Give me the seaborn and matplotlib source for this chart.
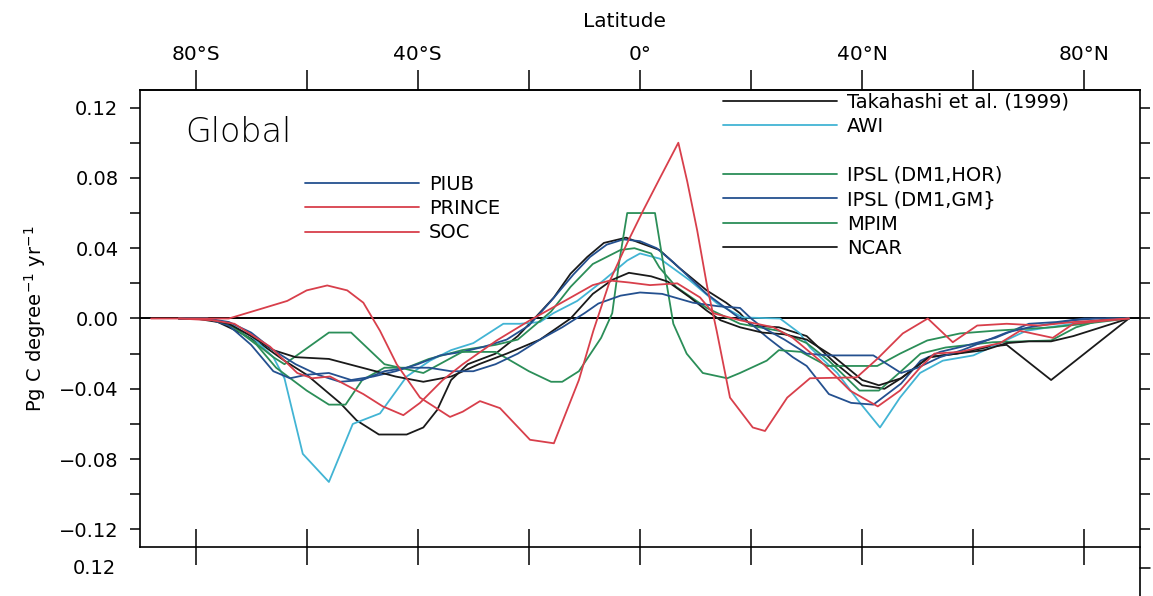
import matplotlib
matplotlib.use("Agg")
import matplotlib.pyplot as plt
from matplotlib.lines import Line2D
from matplotlib.ticker import FixedLocator
import pandas as pd
import seaborn as sns

# Zonally integrated sea-air CO2 flux (Pg C per degree latitude per year)
takahashi_lat = [-83, -80, -76, -72, -68, -64, -60, -57, -54, -51, -47, -42, -39, -36.5, -34, -31, -26, -22, -19,
                 -15.5, -12.5, -9.5, -6.5, -2.5, 0, 3.5, 7, 12, 15.5, 18, 20, 25, 30, 35, 40, 44, 47, 52, 57, 63,
                 66, 70, 74, 80, 88]
takahashi_flux = [0, 0, -0.002, -0.008, -0.015, -0.024, -0.032, -0.040, -0.048, -0.058, -0.066, -0.066, -0.062,
                  -0.052, -0.035, -0.026, -0.020, -0.010, 0.0, 0.012, 0.0255, 0.035, 0.043, 0.046, 0.043, 0.039,
                  0.029, 0.016, 0.009, 0.003, -0.004, -0.005, -0.010, -0.025, -0.038, -0.040, -0.034, -0.022,
                  -0.020, -0.016, -0.015, -0.025, -0.035, -0.020, 0.0]

awi_lat = [-83, -78, -74, -70, -66, -64, -60.7, -56, -51.7, -46.8, -42, -37.8, -34, -30, -24.6, -21.6, -18, -15.6,
           -11.3, -6.6, -2.3, 0, 3.6, 9, 13.9, 18.5, 25.2, 28.8, 30.6, 35.5, 39.6, 43.2, 46.8, 50.4, 54.5, 60, 64.8,
           69.5, 80, 88]
awi_flux = [0, 0, -0.003, -0.010, -0.022, -0.034, -0.077, -0.093, -0.060, -0.054, -0.033, -0.024, -0.018, -0.014,
            -0.003, -0.003, -0.002, 0.003, 0.010, 0.0216, 0.033, 0.037, 0.034, 0.0216, 0.0085, 0.0006, 0.0, -0.0085,
            -0.0165, -0.031, -0.048, -0.062, -0.045, -0.031, -0.024, -0.021, -0.014, -0.007, -0.002, 0.0]

ipsl_hor_lat = [-83, -78, -74, -69, -65.5, -60, -56, -53, -50, -46, -42, -38, -32, -26, -22, -19, -16, -12.5, -8.5,
                -3.5, -1, 2, 3.5, 6.5, 12, 18, 25, 30, 34, 39.5, 43, 47, 50.5, 55, 63.5, 74, 78.5, 84, 88]
ipsl_hor_flux = [0, 0, -0.003, -0.015, -0.028, -0.041, -0.049, -0.049, -0.035, -0.028, -0.028, -0.023, -0.018,
                 -0.015, -0.012, -0.004, 0.004, 0.018, 0.031, 0.039, 0.040, 0.037, 0.029, 0.018, 0.006, -0.003,
                 -0.007, -0.014, -0.024, -0.041, -0.041, -0.030, -0.020, -0.0165, -0.0135, -0.0125, -0.005, 0.0, 0.0]

ipsl_gm_lat = [-83, -78, -74, -70, -66, -63, -60, -56, -52, -48, -44, -40, -36, -32, -28, -24, -20, -16, -12, -9,
               -6, -3, 0, 3, 6, 9, 12, 15, 18, 20, 23, 27.5, 30, 34, 38, 42, 47, 50.5, 54, 58, 64, 70, 75, 80, 88]
ipsl_gm_flux = [0, 0, -0.004, -0.015, -0.030, -0.034, -0.032, -0.031, -0.035, -0.033, -0.030, -0.026, -0.021,
                -0.019, -0.016, -0.012, -0.004, 0.010, 0.025, 0.035, 0.042, 0.045, 0.044, 0.040, 0.032, 0.023,
                0.014, 0.007, 0.0, -0.003, -0.011, -0.022, -0.027, -0.043, -0.048, -0.049, -0.037, -0.024, -0.019,
                -0.016, -0.011, -0.003, -0.002, 0.0, 0.0]

mpim_lat = [-83, -78, -74, -70, -66, -64, -60, -56, -52, -46, -39, -32, -26, -20, -16, -14, -11, -7, -5, -3.8,
            -2.3, 2.7, 4.2, 6, 8.4, 11.3, 15.7, 18, 22.8, 25, 29, 33.7, 42.7, 46.8, 51.7, 57.6, 63.6, 74.3, 80, 88]
mpim_flux = [0, 0, -0.003, -0.012, -0.022, -0.026, -0.017, -0.008, -0.008, -0.026, -0.031, -0.019, -0.019, -0.030,
             -0.036, -0.036, -0.030, -0.011, 0.003, 0.031, 0.060, 0.060, 0.031, -0.003, -0.020, -0.031, -0.034,
             -0.031, -0.024, -0.018, -0.019, -0.027, -0.027, -0.020, -0.0125, -0.0085, -0.007, -0.005, -0.003, 0.0]

ncar_lat = [-83, -78, -74, -70, -66, -62, -56, -50, -44, -39, -34, -29, -24, -18, -12.5, -8.5, -5, -2, 2, 5, 9, 12,
            14.5, 18, 22, 26, 30, 35, 40, 43, 47, 52, 57, 62, 66, 70, 74, 78, 82, 86, 88]
ncar_flux = [0, 0, -0.003, -0.010, -0.018, -0.022, -0.023, -0.028, -0.033, -0.036, -0.033, -0.026, -0.020, -0.012,
             0.0, 0.014, 0.022, 0.026, 0.024, 0.021, 0.012, 0.0045, -0.001, -0.005, -0.008, -0.009, -0.012, -0.022,
             -0.035, -0.038, -0.034, -0.022, -0.020, -0.018, -0.014, -0.013, -0.013, -0.010, -0.006, -0.002, 0.0]

piub_lat = [-83, -78, -74, -70, -66, -62, -58, -54, -50, -46, -42, -38, -34, -30, -26, -22, -18, -14, -10, -7.5,
            -3.5, 0, 4, 9.5, 14, 18, 20, 22, 26, 30, 34, 38, 42, 47, 50, 54, 58, 62, 66, 70, 74, 78, 82, 88]
piub_flux = [0, 0, -0.002, -0.008, -0.018, -0.026, -0.032, -0.036, -0.035, -0.030, -0.028, -0.028, -0.030, -0.030,
             -0.026, -0.020, -0.012, -0.005, 0.003, 0.0085, 0.013, 0.0148, 0.014, 0.009, 0.007, 0.006, 0.0, -0.005,
             -0.012, -0.020, -0.021, -0.021, -0.021, -0.031, -0.028, -0.022, -0.018, -0.013, -0.008, -0.005, -0.003,
             -0.001, 0.0, 0.0]

prince_lat = [-88, -74, -68, -63.5, -60, -56.3, -52.7, -49.8, -46.8, -43.8, -39.6, -34.2, -31.9, -28.8, -25.2,
              -19.8, -15.5, -11, -8.4, -5.4, -2.3, 0.5, 3.6, 6.9, 8.5, 10.3, 12.1, 13.8, 16.2, 20.3, 22.5, 26.5,
              30.6, 39, 42.7, 47.3, 51.8, 56.3, 60.7, 66, 72, 78, 88]
prince_flux = [0, 0, 0.0057, 0.010, 0.016, 0.0188, 0.016, 0.009, -0.007, -0.026, -0.045, -0.056, -0.053, -0.047,
               -0.051, -0.069, -0.071, -0.035, -0.007, 0.0216, 0.043, 0.061, 0.080, 0.100, 0.078, 0.050, 0.018,
               -0.007, -0.045, -0.062, -0.064, -0.045, -0.034, -0.0335, -0.023, -0.0085, 0.0, -0.0135, -0.004,
               -0.003, -0.004, -0.002, 0.0]

soc_lat = [-83, -77, -73, -66.6, -61.7, -59, -55.8, -49.8, -46.3, -42.6, -39.6, -35.5, -31.9, -25.8, -19.8, -14.4,
           -8.5, -5.4, -2, 1.8, 6.7, 10.8, 13.2, 18, 24, 27.5, 32.4, 37.8, 42.8, 46.8, 50.4, 53, 57.6, 64.8, 68.4,
           74.3, 78, 88]
soc_flux = [0, -0.001, -0.003, -0.016, -0.031, -0.034, -0.033, -0.043, -0.050, -0.055, -0.048, -0.035, -0.026,
            -0.0125, -0.001, 0.0085, 0.019, 0.0216, 0.0205, 0.019, 0.020, 0.012, 0.003, -0.001, -0.005, -0.011,
            -0.024, -0.041, -0.050, -0.041, -0.028, -0.020, -0.019, -0.014, -0.007, -0.011, -0.003, 0.0]

BLACK = "#1a1a1a"
CYAN = "#42b4d4"
GREEN = "#2b8e58"
BLUE = "#24508f"
RED = "#d83f4b"

series = {
    "Takahashi et al. (1999)": (takahashi_lat, takahashi_flux, BLACK),
    "AWI": (awi_lat, awi_flux, CYAN),
    "IPSL (DM1,HOR)": (ipsl_hor_lat, ipsl_hor_flux, GREEN),
    "IPSL (DM1,GM}": (ipsl_gm_lat, ipsl_gm_flux, BLUE),
    "MPIM": (mpim_lat, mpim_flux, GREEN),
    "NCAR": (ncar_lat, ncar_flux, BLACK),
    "PIUB": (piub_lat, piub_flux, BLUE),
    "PRINCE": (prince_lat, prince_flux, RED),
    "SOC": (soc_lat, soc_flux, RED),
}
left_legend = ["PIUB", "PRINCE", "SOC"]
right_legend = ["Takahashi et al. (1999)", "AWI", None, "IPSL (DM1,HOR)", "IPSL (DM1,GM}", "MPIM", "NCAR"]

frames = [pd.DataFrame({"lat": la, "flux": fl, "model": name}) for name, (la, fl, _) in series.items()]
df = pd.concat(frames, ignore_index=True)
palette = {name: c for name, (_, _, c) in series.items()}

sns.set_style("ticks")
plt.rcParams["font.family"] = ["DejaVu Sans"]
for key in ("text.color", "axes.labelcolor", "xtick.color", "ytick.color", "axes.edgecolor"):
    plt.rcParams[key] = "black"

W, H = 1153, 596
fig = plt.figure(figsize=(W / 100, H / 100), dpi=100)
ax = fig.add_axes([140 / W, (H - 547) / H, 1000 / W, 457 / H])

ax.axhline(0, color="black", lw=1.4, zorder=1)
sns.lineplot(data=df, x="lat", y="flux", hue="model", palette=palette, estimator=None, sort=False,
             legend=False, lw=1.3, ax=ax, zorder=2)

ax.set_xlim(-90, 90)
ax.set_ylim(-0.13, 0.13)
ax.set_xlabel("")

# bottom axis: unlabelled ticks crossing the frame
ax.set_xticks([-80, -60, -40, -20, 0, 20, 40, 60, 80])
ax.tick_params(axis="x", which="both", direction="inout", length=26, width=1.1, labelbottom=False, top=False)

# left/right axes
yt = [-0.12, -0.08, -0.04, 0.0, 0.04, 0.08, 0.12]
ytl = ["\u22120.12", "\u22120.08", "\u22120.04", "0.00", "0.04", "0.08", "0.12"]
ax.set_yticks(yt, labels=ytl)
ax.yaxis.set_minor_locator(FixedLocator([-0.10, -0.06, -0.02, 0.02, 0.06, 0.10]))
ax.tick_params(axis="y", which="both", direction="out", length=7.5, width=1.1, right=True,
               labelright=False, pad=8, labelsize=14)
ax.set_ylabel(r"Pg C degree$^{-1}$ yr$^{-1}$", fontsize=14, labelpad=8)

# top latitude axis
top = ax.secondary_xaxis("top")
top.set_xticks([-80, -40, 0, 40, 80], labels=["80°S", "40°S", "0°", "40°N", "80°N"])
top.xaxis.set_minor_locator(FixedLocator([-60, -20, 20, 60]))
top.tick_params(which="both", direction="out", length=14.5, width=1.1, pad=4, labelsize=14.5)
top.set_xlabel("Latitude", fontsize=14.5, labelpad=13)
top.xaxis.label.set_x(0.485)

for s in ax.spines.values():
    s.set_linewidth(1.2)
top.spines["top"].set_linewidth(1.2)

ax.text(0.045, 0.908, "Global", transform=ax.transAxes, fontsize=24, ha="left", va="center",
        fontweight="light", color="black")

def handles(names):
    out = []
    for n in names:
        if n is None:
            out.append(Line2D([], [], color="none"))
        else:
            out.append(Line2D([], [], color=palette[n], lw=1.3))
    return out

leg_kw = dict(frameon=False, fontsize=14, handlelength=5.86, handletextpad=0.51, labelspacing=0.28,
              borderpad=0, borderaxespad=0, loc="upper left")
leg1 = ax.legend(handles(left_legend), left_legend, bbox_to_anchor=(0.165, 0.815), **leg_kw)
ax.add_artist(leg1)
ax.legend(handles(right_legend), [n if n else " " for n in right_legend],
          bbox_to_anchor=(0.583, 0.9945), **leg_kw)

# top edge of the following panel
fig.text(116 / W, 1 - 568 / H, "0.12", ha="right", va="center", fontsize=14)
fig.add_artist(Line2D([1140 / W, 1140 / W], [0, 49 / H], transform=fig.transFigure, color="black", lw=1.2))
fig.add_artist(Line2D([1140 / W, 1150 / W], [28 / H, 28 / H], transform=fig.transFigure, color="black", lw=1.1))

fig.savefig("out.png", dpi=100)
